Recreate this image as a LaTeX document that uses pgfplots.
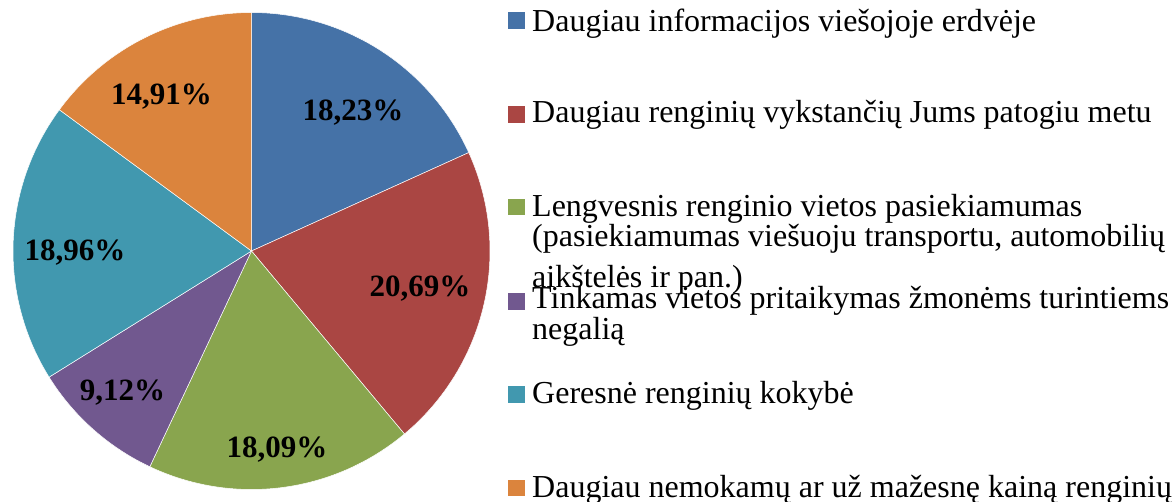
\documentclass[border=0pt]{standalone}
\usepackage{pgfplots}
\pgfplotsset{compat=1.18}
\usepackage{fontspec}
\setmainfont{Liberation Serif}

\definecolor{cBlue}{HTML}{4572A7}
\definecolor{cRed}{HTML}{AA4643}
\definecolor{cGreen}{HTML}{89A54E}
\definecolor{cPurple}{HTML}{71588F}
\definecolor{cTeal}{HTML}{4198AF}
\definecolor{cOrange}{HTML}{DB843D}

% one pie slice: #1 = share in percent, #2 = colour
\def\cum{0}
\newcommand\slice[2]{%
  \pgfmathsetmacro\angA{90-3.6*\cum}%
  \pgfmathsetmacro\angB{90-3.6*(\cum+#1)}%
  \edef\temp{\noexpand\addplot[fill=#2, draw=white, line width=0.5pt,
    domain=\angA:\angB, samples=90] ({cos(x)},{sin(x)}) -- (0,0) -- cycle;}%
  \temp
  \pgfmathsetmacro\cum{\cum+#1}\xdef\cum{\cum}%
}

\begin{document}
\begin{tikzpicture}
\useasboundingbox (0,0) rectangle (1175pt,-502pt);
\clip (0,0) rectangle (1175pt,-502pt);

\begin{axis}[
    at={(13pt,-489.5pt)}, anchor=south west,
    scale only axis,
    width=477pt, height=477pt,
    xmin=-1, xmax=1, ymin=-1, ymax=1,
    hide axis,
    clip=false
]
\slice{18.23}{cBlue}
\slice{20.69}{cRed}
\slice{18.09}{cGreen}
\slice{9.12}{cPurple}
\slice{18.96}{cTeal}
\slice{14.91}{cOrange}

\begin{scope}[every node/.style={anchor=base, inner sep=0pt,
    font=\bfseries\fontsize{31}{31}\selectfont}]
\node at (axis cs:0.426,0.549)   {18,23\%};
\node at (axis cs:0.706,-0.189)  {20,69\%};
\node at (axis cs:0.107,-0.867)  {18,09\%};
\node at (axis cs:-0.541,-0.625) {9,12\%};
\node at (axis cs:-0.740,-0.038) {18,96\%};
\node at (axis cs:-0.377,0.616)  {14,91\%};
\end{scope}
\end{axis}

% legend
\begin{scope}[every node/.style={anchor=base west, inner sep=0pt,
    font=\fontsize{32}{32}\selectfont}]
\fill[cBlue]   (508pt,-12.5pt)  rectangle (524.5pt,-29pt);
\fill[cRed]    (508pt,-106.5pt) rectangle (524.5pt,-123pt);
\fill[cGreen]  (508pt,-199pt)   rectangle (524.5pt,-215.5pt);
\fill[cPurple] (508pt,-293.5pt) rectangle (524.5pt,-310pt);
\fill[cTeal]   (508pt,-386pt)   rectangle (524.5pt,-402.5pt);
\fill[cOrange] (508pt,-479.5pt) rectangle (524.5pt,-496pt);

\node at (532pt,-31.5pt)  {Daugiau informacijos viešojoje erdvėje};
\node at (532pt,-123pt)   {Daugiau renginių vykstančių Jums patogiu metu};
\node at (532pt,-216.5pt) {Lengvesnis renginio vietos pasiekiamumas};
\node at (532pt,-246.5pt) {(pasiekiamumas viešuoju transportu, automobilių};
\node at (532pt,-287.5pt) {aikštelės ir pan.)};
\node at (532pt,-309pt)   {Tinkamas vietos pritaikymas žmonėms turintiems};
\node at (532pt,-340pt)   {negalią};
\node at (532pt,-403pt)   {Geresnė renginių kokybė};
\node at (532pt,-497pt)   {Daugiau nemokamų ar už mažesnę kainą renginių};
\end{scope}
\end{tikzpicture}
\end{document}
